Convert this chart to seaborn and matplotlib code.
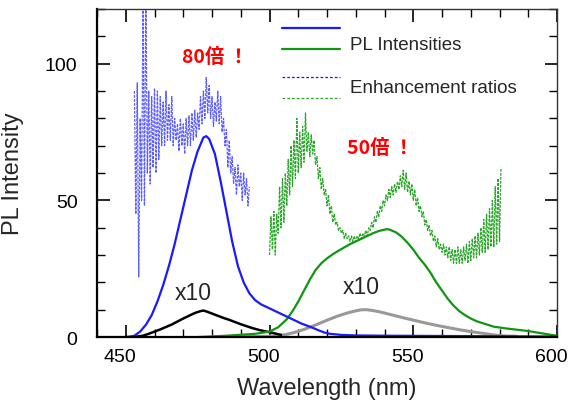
import numpy as np
import pandas as pd
import matplotlib
matplotlib.use('Agg')
import matplotlib.pyplot as plt
import matplotlib.ticker as ticker
import matplotlib.transforms as mtransforms
import seaborn as sns

sns.set_theme(style='ticks')
plt.rcParams['font.family'] = ['Liberation Sans', 'Noto Sans CJK JP', 'DejaVu Sans']
plt.rcParams['axes.unicode_minus'] = False

# PL強度（青）
blue_wl = [440, 451, 453, 455, 457, 459, 461, 463, 465, 467, 469, 471, 473, 475, 477, 478, 479,
           481, 483, 485, 487, 489, 491, 493, 495, 497, 499, 501, 503, 505, 507, 509, 511, 513,
           515, 517, 519, 521, 525, 530, 540, 560, 580, 600]
blue_pl = [0, 0, 0.5, 2, 4.5, 8, 13, 19, 26, 34, 43, 52, 61, 68, 73, 73.5, 72.5,
           67, 57, 46, 35, 26, 20, 16, 13.5, 12, 11, 10, 9, 8, 7, 6, 5, 4.2,
           3.4, 2.5, 1.7, 1.2, 0.8, 0.6, 0.5, 0.4, 0.3, 0.2]

# 参照 x10（黒）
black_wl = [450, 454, 456, 458, 460, 462, 464, 466, 468, 470, 472, 474, 476, 477, 478, 480,
            482, 484, 486, 488, 490, 492, 494, 496, 498, 500, 502, 504]
black_pl = [0, 0.2, 0.5, 1.2, 2, 2.8, 3.7, 4.6, 5.7, 6.8, 7.8, 8.8, 9.5, 9.7, 9.4, 8.6,
            7.8, 7, 6.3, 5.5, 4.7, 4, 3.3, 2.7, 2.2, 1.8, 1.3, 0.8]

# PL強度（緑）
green_wl = [475, 485, 495, 500, 503, 506, 508, 510, 512, 514, 516, 518, 520, 522, 524, 526,
            528, 530, 532, 534, 536, 538, 540, 541, 542, 544, 546, 548, 550, 552, 554, 556,
            558, 560, 562, 564, 566, 568, 570, 572, 575, 578, 582, 586, 590, 594, 598, 600]
green_pl = [0, 0.5, 1.2, 2, 3.6, 6.5, 9.5, 13, 17, 21, 24.5, 27, 28.8, 30.3, 31.6, 32.8,
            34, 35, 36, 37, 38, 38.8, 39.3, 39.5, 39.2, 38.3, 36.7, 34.5, 32, 29, 26.5, 23.5,
            20, 17, 14, 11.5, 9.5, 8, 6.8, 5.8, 4.8, 3.8, 3.2, 2.7, 2.2, 1.5, 0.8, 0.5]

# 参照 x10（灰）
gray_wl = [480, 500, 503, 506, 509, 512, 515, 518, 521, 524, 527, 530, 532, 534, 536, 538,
           540, 543, 546, 550, 554, 558, 562, 566, 570, 574, 578, 582, 586]
gray_pl = [0, 0.3, 0.5, 1, 1.8, 2.8, 4, 5.3, 6.6, 7.8, 8.8, 9.6, 10, 10, 9.7, 9.3,
           8.8, 8, 7.2, 6.2, 5.2, 4.3, 3.5, 2.7, 2, 1.4, 0.8, 0.4, 0.3]

# 増強率（青, 453 nm から 0.5 nm 刻み）
blue_ratio = [90, 45, 93, 22, 80, 50, 125, 48, 130, 60, 90, 56, 88, 62, 91, 60, 90, 65, 88, 70,
              86, 70, 90, 72, 85, 72, 88, 70, 80, 72, 78, 68, 80, 70, 78, 67, 80, 70, 81, 70,
              82, 72, 83, 73, 82, 76, 88, 78, 90, 80, 95, 82, 92, 80, 88, 77, 86, 79, 90, 78,
              88, 75, 80, 70, 76, 62, 72, 60, 66, 56, 62, 52, 63, 55, 60, 50, 60, 52, 58, 48, 55]
blue_ratio_start = 453

# 増強率（緑, 500 nm から 0.5 nm 刻み）
green_ratio = [30, 44, 32, 46, 30, 45, 38, 55, 40, 58, 42, 60, 48, 65, 52, 70, 55, 72, 58, 80,
               60, 75, 62, 77, 64, 82, 68, 75, 66, 74, 67, 72, 63, 66, 58, 62, 54, 58, 52, 54,
               48, 52, 45, 48, 42, 45, 41, 42, 39, 40, 38, 39, 36, 38, 36, 37, 35, 37, 35, 37,
               35, 37, 36, 38, 36, 38, 37, 39, 37, 40, 39, 42, 40, 44, 42, 46, 44, 48, 46, 50,
               48, 52, 50, 54, 51, 55, 52, 56, 53, 57, 54, 59, 55, 61, 54, 60, 53, 57, 52, 56,
               50, 54, 48, 51, 46, 48, 44, 46, 41, 43, 39, 41, 37, 39, 35, 37, 33, 36, 32, 34,
               31, 34, 30, 33, 29, 33, 28, 32, 27, 32, 27, 33, 27, 32, 27, 33, 28, 34, 27, 35,
               28, 36, 29, 37, 29, 38, 30, 40, 31, 43, 31, 45, 32, 47, 33, 50, 33, 55, 34, 58,
               35, 62]
green_ratio_start = 500

blue_ratio_wl = blue_ratio_start + 0.5 * np.arange(len(blue_ratio))
green_ratio_wl = green_ratio_start + 0.5 * np.arange(len(green_ratio))

fig = plt.figure(figsize=(5.69, 4.02), dpi=100)
ax = fig.add_axes([0.1705, 0.159, 0.8085, 0.816])

dash = (0, (2.2, 1.0))
sns.lineplot(x=blue_ratio_wl, y=blue_ratio, ax=ax, color='#5a5cff', lw=0.9, linestyle=dash, sort=False)
sns.lineplot(x=green_ratio_wl, y=green_ratio, ax=ax, color='#2aa52a', lw=0.9, linestyle=dash, sort=False)
sns.lineplot(x=gray_wl, y=gray_pl, ax=ax, color='#999999', lw=2.2)
sns.lineplot(x=black_wl, y=black_pl, ax=ax, color='black', lw=1.8)
sns.lineplot(x=green_wl, y=green_pl, ax=ax, color='#0f9612', lw=1.6)
sns.lineplot(x=blue_wl, y=blue_pl, ax=ax, color='#1a1aff', lw=1.6)

ax.set_xlim(440, 600)
ax.set_ylim(0, 120)
ax.xaxis.set_major_locator(ticker.MultipleLocator(50))
ax.xaxis.set_minor_locator(ticker.MultipleLocator(10))
ax.yaxis.set_major_locator(ticker.MultipleLocator(50))
ax.yaxis.set_minor_locator(ticker.MultipleLocator(10))
ax.tick_params(which='both', direction='in', top=True, right=True, colors='black')
ax.tick_params(which='major', length=9, width=1.2)
ax.tick_params(which='minor', length=6, width=1.0)
ax.tick_params(axis='x', which='major', labelsize=14, pad=8)
ax.tick_params(axis='y', which='major', labelsize=14, pad=14)

# 目盛ラベルを少し左へ
shift = mtransforms.ScaledTranslation(-0.06, 0, fig.dpi_scale_trans)
for lab in ax.get_xticklabels():
    lab.set_transform(lab.get_transform() + shift)

for side in ['left', 'bottom']:
    ax.spines[side].set_linewidth(1.6)
    ax.spines[side].set_color('black')
for side in ['top', 'right']:
    ax.spines[side].set_visible(True)
    ax.spines[side].set_linewidth(1.0)
    ax.spines[side].set_color('#333333')

ax.set_xlabel('Wavelength (nm)', fontsize=17)
ax.set_ylabel('PL Intensity', fontsize=17)
ax.xaxis.set_label_coords(0.5, -0.122)
ax.yaxis.set_label_coords(-0.158, 0.5)

# 凡例（手描き）
tr = ax.transAxes
ax.plot([0.402, 0.528], [0.942, 0.942], transform=tr, color='#1a1aff', lw=1.6)
ax.plot([0.402, 0.528], [0.878, 0.878], transform=tr, color='#0f9612', lw=1.6)
ax.plot([0.402, 0.528], [0.793, 0.793], transform=tr, color='#1a1aff', lw=0.9, linestyle=(0, (2.2, 1.6)))
ax.plot([0.402, 0.528], [0.729, 0.729], transform=tr, color='#2aa52a', lw=0.9, linestyle=(0, (2.2, 1.6)))
ax.text(0.55, 0.893, 'PL Intensities', transform=tr, fontsize=13.5, va='center', ha='left')
ax.text(0.55, 0.762, 'Enhancement ratios', transform=tr, fontsize=13.5, va='center', ha='left')

cjk = ['Noto Sans CJK JP', 'DejaVu Sans']
ax.text(0.257, 0.855, '80倍 ！', transform=tr, fontsize=14, color='#ff0000',
        fontweight='bold', family=cjk, ha='center', va='center')
ax.text(0.616, 0.579, '50倍 ！', transform=tr, fontsize=14, color='#ff0000',
        fontweight='bold', family=cjk, ha='center', va='center')
ax.text(0.209, 0.137, 'x10', transform=tr, fontsize=16.5, ha='center', va='center')
ax.text(0.574, 0.155, 'x10', transform=tr, fontsize=16.5, ha='center', va='center')

fig.savefig('out.png', dpi=100, facecolor='white')
